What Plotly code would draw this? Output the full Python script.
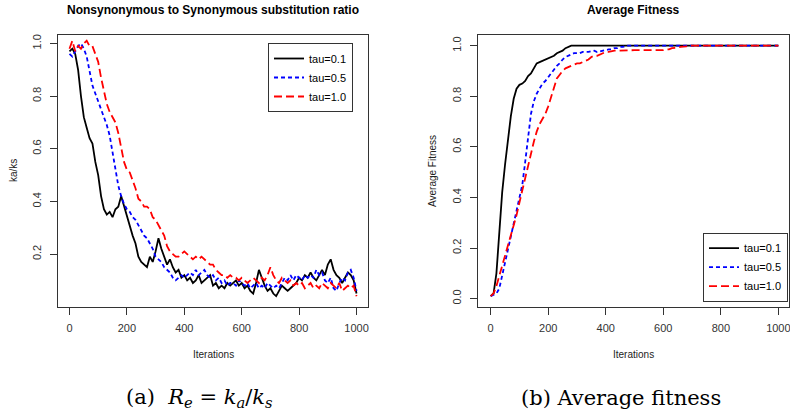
import plotly.graph_objects as go

# ---------------- data ----------------
iterations = list(range(0, 1001, 10))

ratio_tau01 = [0.97, 0.98, 0.96, 0.90, 0.80, 0.72, 0.68, 0.64, 0.62, 0.55,
               0.50, 0.42, 0.37, 0.35, 0.36, 0.34, 0.37, 0.38, 0.42, 0.38,
               0.35, 0.31, 0.27, 0.24, 0.19, 0.17, 0.16, 0.15, 0.19, 0.17,
               0.21, 0.26, 0.22, 0.19, 0.16, 0.18, 0.15, 0.13, 0.14, 0.11,
               0.12, 0.10, 0.11, 0.09, 0.10, 0.12, 0.09, 0.10, 0.11, 0.12,
               0.08, 0.09, 0.07, 0.08, 0.07, 0.09, 0.08, 0.09, 0.10, 0.08,
               0.09, 0.07, 0.08, 0.06, 0.05, 0.09, 0.14, 0.11, 0.08, 0.06,
               0.07, 0.05, 0.04, 0.06, 0.08, 0.07, 0.06, 0.07, 0.08, 0.09,
               0.11, 0.10, 0.12, 0.11, 0.13, 0.11, 0.10, 0.12, 0.14, 0.12,
               0.16, 0.18, 0.14, 0.12, 0.11, 0.09, 0.11, 0.13, 0.12, 0.10,
               0.05]

ratio_tau05 = [0.96, 0.95, 0.97, 0.99, 1.00, 0.98, 0.95, 0.90, 0.84, 0.81,
               0.78, 0.75, 0.72, 0.69, 0.65, 0.59, 0.53, 0.46, 0.42, 0.39,
               0.37, 0.36, 0.34, 0.33, 0.31, 0.29, 0.27, 0.26, 0.24, 0.22,
               0.19, 0.18, 0.17, 0.15, 0.14, 0.13, 0.11, 0.10, 0.11, 0.12,
               0.11, 0.12, 0.13, 0.12, 0.14, 0.12, 0.13, 0.14, 0.12, 0.11,
               0.12, 0.10, 0.11, 0.09, 0.10, 0.08, 0.09, 0.09, 0.08, 0.10,
               0.09, 0.08, 0.09, 0.07, 0.08, 0.09, 0.07, 0.08, 0.07, 0.09,
               0.08, 0.07, 0.08, 0.07, 0.09, 0.11, 0.10, 0.12, 0.10, 0.12,
               0.11, 0.10, 0.12, 0.11, 0.12, 0.11, 0.14, 0.12, 0.13, 0.10,
               0.09, 0.11, 0.07, 0.06, 0.09, 0.11, 0.10, 0.13, 0.14, 0.11,
               0.06]

ratio_tau10 = [0.98, 1.01, 0.97, 0.99, 0.98, 1.00, 1.01, 0.99, 0.99, 0.96,
               0.93, 0.87, 0.82, 0.77, 0.74, 0.72, 0.70, 0.66, 0.61, 0.55,
               0.52, 0.51, 0.48, 0.45, 0.41, 0.40, 0.38, 0.38, 0.37, 0.34,
               0.33, 0.31, 0.29, 0.27, 0.23, 0.21, 0.20, 0.19, 0.19, 0.20,
               0.21, 0.20, 0.19, 0.18, 0.19, 0.18, 0.19, 0.18, 0.17, 0.16,
               0.16, 0.14, 0.13, 0.12, 0.12, 0.11, 0.12, 0.11, 0.11, 0.10,
               0.11, 0.10, 0.09, 0.10, 0.11, 0.10, 0.09, 0.11, 0.10, 0.12,
               0.15, 0.12, 0.10, 0.09, 0.11, 0.10, 0.09, 0.10, 0.08, 0.09,
               0.08, 0.09, 0.07, 0.08, 0.09, 0.07, 0.08, 0.07, 0.09, 0.08,
               0.07, 0.09, 0.08, 0.07, 0.09, 0.06, 0.07, 0.08, 0.07, 0.08,
               0.04]

fit_iter_tau01 = [0, 10, 20, 30, 40, 50, 60, 70, 80, 90, 100, 110, 120, 130,
                  140, 150, 160, 170, 180, 190, 200, 210, 220, 230, 240, 250,
                  260, 270, 280, 1000]
fit_tau01 = [0.01, 0.02, 0.10, 0.28, 0.42, 0.53, 0.63, 0.72, 0.79, 0.83,
             0.845, 0.85, 0.86, 0.88, 0.89, 0.91, 0.93, 0.935, 0.94, 0.945,
             0.95, 0.955, 0.96, 0.97, 0.975, 0.98, 0.99, 0.995, 1.0, 1.0]

fit_iter_tau05 = [0, 10, 20, 30, 40, 50, 60, 70, 80, 90, 100, 110, 120, 130,
                  140, 150, 160, 170, 180, 190, 200, 210, 220, 230, 240, 250,
                  260, 270, 280, 290, 300, 310, 320, 330, 340, 350, 360, 370,
                  380, 390, 400, 410, 420, 430, 440, 450, 460, 470, 1000]
fit_tau05 = [0.01, 0.015, 0.02, 0.04, 0.09, 0.14, 0.19, 0.24, 0.29, 0.34,
             0.40, 0.45, 0.54, 0.64, 0.73, 0.78, 0.81, 0.83, 0.85, 0.86,
             0.875, 0.89, 0.905, 0.92, 0.93, 0.945, 0.955, 0.96, 0.965, 0.97,
             0.97, 0.97, 0.975, 0.975, 0.975, 0.978, 0.98, 0.975, 0.978, 0.98,
             0.982, 0.985, 0.985, 0.99, 0.99, 0.995, 0.995, 1.0, 1.0]

fit_iter_tau10 = [0, 10, 20, 30, 40, 50, 60, 70, 80, 90, 100, 110, 120, 130,
                  140, 150, 160, 170, 180, 190, 200, 210, 220, 230, 240, 250,
                  260, 270, 280, 290, 300, 310, 320, 330, 340, 350, 360, 370,
                  380, 390, 400, 410, 420, 430, 500, 600, 610, 620, 630, 640,
                  650, 660, 670, 680, 690, 1000]
fit_tau10 = [0.01, 0.02, 0.05, 0.09, 0.13, 0.16, 0.20, 0.24, 0.29, 0.33,
             0.38, 0.43, 0.47, 0.52, 0.57, 0.62, 0.66, 0.69, 0.71, 0.73,
             0.76, 0.80, 0.84, 0.87, 0.885, 0.90, 0.91, 0.915, 0.92, 0.925,
             0.93, 0.93, 0.935, 0.94, 0.945, 0.955, 0.96, 0.96, 0.965, 0.97,
             0.975, 0.975, 0.978, 0.98, 0.982, 0.982, 0.985, 0.985, 0.99, 0.99,
             0.992, 0.995, 0.995, 0.997, 1.0, 1.0]

series_names = ["tau=0.1", "tau=0.5", "tau=1.0"]
x_ticks = [0, 200, 400, 600, 800, 1000]
y_ticks_ratio = [0.2, 0.4, 0.6, 0.8, 1.0]
y_ticks_fit = [0.0, 0.2, 0.4, 0.6, 0.8, 1.0]

# ---------------- figure ----------------
W, H = 790, 415
colors = ["#000000", "#0000FF", "#FF0000"]
dashes = ["solid", "4px,3px", "8px,4px"]

fig = go.Figure()

left_vals = [ratio_tau01, ratio_tau05, ratio_tau10]
for name, vals, c, d in zip(series_names, left_vals, colors, dashes):
    fig.add_trace(go.Scatter(x=iterations, y=vals, mode="lines", name=name,
                             line=dict(color=c, width=1.8, dash=d),
                             xaxis="x", yaxis="y", legend="legend"))

right_x = [fit_iter_tau01, fit_iter_tau05, fit_iter_tau10]
right_vals = [fit_tau01, fit_tau05, fit_tau10]
for name, xs, vals, c, d in zip(series_names, right_x, right_vals, colors, dashes):
    fig.add_trace(go.Scatter(x=xs, y=vals, mode="lines", name=name,
                             line=dict(color=c, width=1.8, dash=d),
                             xaxis="x2", yaxis="y2", legend="legend2"))

def px(x):
    return x / W

def py(y):
    return 1 - y / H

ydom = [py(306.7), py(35)]
tickfont = dict(family="Liberation Sans, Arial, sans-serif", size=11, color="#333")
axis_common = dict(showgrid=False, zeroline=False, showline=True, mirror=True,
                   linecolor="#333", linewidth=1, ticks="outside", ticklen=7,
                   tickcolor="#333", tickwidth=1, tickfont=tickfont,
                   automargin=False, ticklabeloverflow="allow")

legfont = dict(family="Liberation Sans, Arial, sans-serif", size=11, color="#000")
fig.update_layout(
    width=W, height=H,
    margin=dict(l=0, r=0, t=0, b=0, autoexpand=False),
    paper_bgcolor="white", plot_bgcolor="white",
    xaxis=dict(domain=[px(58), px(368)], range=[-40, 1040], tickvals=x_ticks,
               anchor="y", ticklabelstandoff=4, **axis_common),
    yaxis=dict(domain=ydom, range=[0.0, 1.032], tickvals=y_ticks_ratio,
               tickformat=".1f", tickangle=-90, anchor="x",
               ticklabelstandoff=5, **axis_common),
    xaxis2=dict(domain=[px(478.3), px(789.3)], range=[-43, 1038], tickvals=x_ticks,
                anchor="y2", ticklabelstandoff=4, **axis_common),
    yaxis2=dict(domain=ydom, range=[-0.032, 1.042], tickvals=y_ticks_fit,
                tickformat=".1f", tickangle=-90, anchor="x2",
                ticklabelstandoff=5, **axis_common),
    legend=dict(x=px(353), y=py(43), xanchor="right", yanchor="top",
                bordercolor="#333", borderwidth=1, bgcolor="white",
                font=legfont, tracegroupgap=0),
    legend2=dict(x=px(788), y=py(301.7), xanchor="right", yanchor="bottom",
                 bordercolor="#333", borderwidth=1, bgcolor="white",
                 font=legfont, tracegroupgap=0),
    showlegend=True,
)

sans = "Liberation Sans, Arial, sans-serif"
serif = "DejaVu Serif, serif"
annots = [
    dict(x=px(213), y=py(10), text="<b>Nonsynonymous to Synonymous substitution ratio</b>",
         font=dict(family=sans, size=12, color="#000")),
    dict(x=px(633.5), y=py(10), text="<b>Average Fitness</b>",
         font=dict(family=sans, size=12, color="#000")),
    dict(x=px(213), y=py(354), text="Iterations",
         font=dict(family=sans, size=10, color="#222")),
    dict(x=px(633.5), y=py(354), text="Iterations",
         font=dict(family=sans, size=10, color="#222")),
    dict(x=px(13), y=py(171), text="ka/ks", textangle=-90,
         font=dict(family=sans, size=10, color="#222")),
    dict(x=px(432), y=py(171), text="Average Fitness", textangle=-90,
         font=dict(family=sans, size=10, color="#222")),
    dict(x=px(199), y=py(398),
         text="(a)  <i>R</i><sub><i>e</i></sub> = <i>k</i><sub><i>a</i></sub>/<i>k</i><sub><i>s</i></sub>",
         font=dict(family=serif, size=21, color="#000")),
    dict(x=px(621), y=py(398), text="(b) Average fitness",
         font=dict(family=serif, size=21, color="#000")),
]
for a in annots:
    fig.add_annotation(xref="paper", yref="paper", showarrow=False,
                       xanchor="center", yanchor="middle", **a)

fig.write_html("out.html", config={"displayModeBar": False},
               post_script="document.body.style.margin='0px';document.body.style.overflow='hidden';")
